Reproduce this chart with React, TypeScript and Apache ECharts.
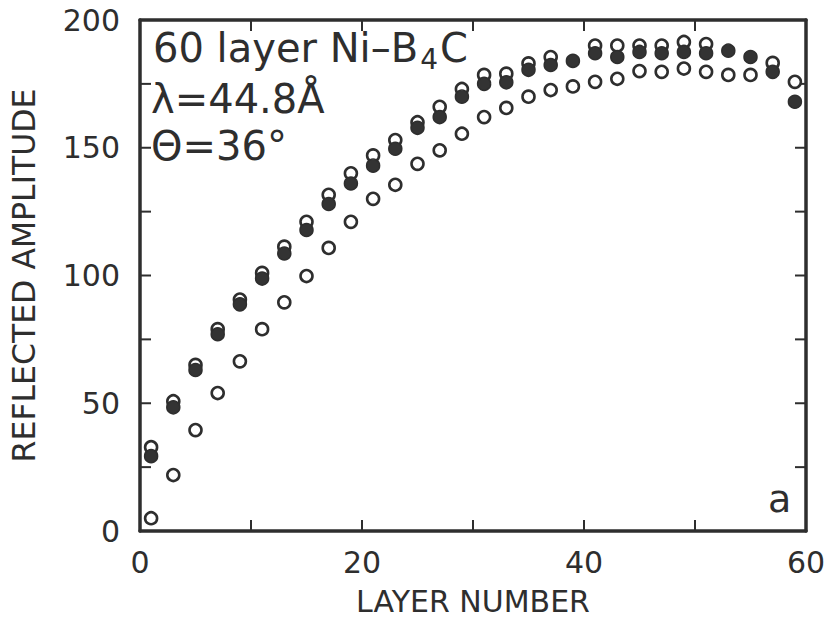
import React, { useEffect, useRef } from "react";
import * as echarts from "echarts";

const layers = [1, 3, 5, 7, 9, 11, 13, 15, 17, 19, 21, 23, 25, 27, 29, 31, 33, 35, 37, 39, 41, 43, 45, 47, 49, 51, 53, 55, 57, 59];
const filledAmp = [29.3, 48.4, 63, 77, 88.7, 98.8, 108.6, 117.8, 128, 136, 143, 149.6, 157.8, 162, 170, 175, 175.6, 180.5, 182.4, 184, 187, 185.5, 187.5, 187, 187.5, 187, 188, 185.5, 179.7, 168];
const openUpperAmp: (number | null)[] = [32.8, 50.8, 65, 79, 90.6, 101, 111.3, 121, 131.6, 140, 147, 153, 160, 166, 173, 178.5, 179, 183, 185.5, null, 190, 190, 190, 190, 191.4, 190.6, null, null, 183.2, null];
const openLowerAmp: (number | null)[] = [5, 21.9, 39.5, 54, 66.4, 79, 89.5, 99.8, 110.8, 121, 130, 135.5, 143.7, 149, 155.5, 162, 165.6, 170, 172.6, 174, 175.8, 177, 180, 179.7, 181, 179.7, 178.5, 178.5, null, 175.8];
const xTickValues = [10, 20, 30, 40, 50];
const yTickValues = [25, 50, 75, 100, 125, 150, 175];
const xTickLabels = ["0", "20", "40", "60"];
const yTickLabels = ["0", "50", "100", "150", "200"];

const INK = "#2e2e2e";
const FONT = "DejaVu Sans";
const TICK_LEN = 11;

export default function App() {
  const ref = useRef<HTMLDivElement>(null);
  useEffect(() => {
    if (!ref.current) return;
    const chart = echarts.init(ref.current, null, { renderer: "svg" });
    const pair = (vals: (number | null)[]) =>
      layers.map((x, i) => (vals[i] == null ? null : [x, vals[i]])).filter((d) => d !== null);

    const line = () => ({ show: true, onZero: false, lineStyle: { color: INK, width: 3.5 } });
    const tickStyle = { stroke: INK, lineWidth: 2 };

    chart.setOption({
      animation: false,
      backgroundColor: "#ffffff",
      grid: { left: 140, right: 26, top: 20, bottom: 86, containLabel: false, outerBoundsMode: "none" },
      xAxis: [
        {
          type: "value",
          position: "bottom",
          min: 0,
          max: 60,
          interval: 10,
          axisLine: line(),
          axisTick: { show: false },
          splitLine: { show: false },
          name: "LAYER NUMBER",
          nameLocation: "middle",
          nameGap: 55,
          nameTextStyle: { fontFamily: FONT, fontSize: 30, color: INK },
          axisLabel: {
            show: true,
            margin: 16,
            fontFamily: FONT,
            fontSize: 30,
            color: INK,
            formatter: (v: number) => (xTickLabels.includes(String(v)) ? String(v) : ""),
          },
        },
        {
          type: "value",
          position: "top",
          min: 0,
          max: 60,
          interval: 10,
          axisLine: line(),
          axisTick: { show: false },
          splitLine: { show: false },
          axisLabel: { show: false },
        },
      ],
      yAxis: [
        {
          type: "value",
          position: "left",
          min: 0,
          max: 200,
          interval: 25,
          axisLine: line(),
          axisTick: { show: false },
          splitLine: { show: false },
          name: "REFLECTED AMPLITUDE",
          nameLocation: "middle",
          nameRotate: 90,
          nameGap: 100,
          nameTextStyle: { fontFamily: FONT, fontSize: 31.5, color: INK },
          axisLabel: {
            show: true,
            margin: 20,
            fontFamily: FONT,
            fontSize: 30,
            color: INK,
            formatter: (v: number) => (yTickLabels.includes(String(v)) ? String(v) : ""),
          },
        },
        {
          type: "value",
          position: "right",
          min: 0,
          max: 200,
          interval: 25,
          axisLine: line(),
          axisTick: { show: false },
          splitLine: { show: false },
          axisLabel: { show: false },
        },
      ],
      series: [
        {
          type: "custom",
          name: "x ticks",
          silent: true,
          z: 1,
          data: xTickValues.map((v) => [v, 0]),
          encode: { x: 0, y: 1 },
          renderItem: (params: any, api: any) => {
            const cs = params.coordSys;
            const p = api.coord([api.value(0), 0]);
            const bottom = cs.y + cs.height;
            return {
              type: "group",
              children: [
                { type: "line", shape: { x1: p[0], y1: bottom, x2: p[0], y2: bottom - TICK_LEN }, style: tickStyle },
                { type: "line", shape: { x1: p[0], y1: cs.y, x2: p[0], y2: cs.y + TICK_LEN }, style: tickStyle },
              ],
            };
          },
        },
        {
          type: "custom",
          name: "y ticks",
          silent: true,
          z: 1,
          data: yTickValues.map((v) => [0, v]),
          encode: { x: 0, y: 1 },
          renderItem: (params: any, api: any) => {
            const cs = params.coordSys;
            const p = api.coord([0, api.value(1)]);
            const right = cs.x + cs.width;
            return {
              type: "group",
              children: [
                { type: "line", shape: { x1: cs.x, y1: p[1], x2: cs.x + TICK_LEN, y2: p[1] }, style: tickStyle },
                { type: "line", shape: { x1: right, y1: p[1], x2: right - TICK_LEN, y2: p[1] }, style: tickStyle },
              ],
            };
          },
        },
        {
          type: "scatter",
          name: "open lower",
          data: pair(openLowerAmp),
          symbol: "circle",
          symbolSize: 12,
          z: 2,
          itemStyle: { color: "#ffffff", borderColor: INK, borderWidth: 2.6, opacity: 1 },
        },
        {
          type: "scatter",
          name: "open upper",
          data: pair(openUpperAmp),
          symbol: "circle",
          symbolSize: 12,
          z: 3,
          itemStyle: { color: "#ffffff", borderColor: INK, borderWidth: 2.6, opacity: 1 },
        },
        {
          type: "scatter",
          name: "filled",
          data: pair(filledAmp),
          symbol: "circle",
          symbolSize: 13,
          z: 4,
          itemStyle: { color: "#333333", borderColor: INK, borderWidth: 1.5, opacity: 1 },
        },
      ],
      graphic: [
        {
          type: "text",
          left: 153,
          top: 28,
          z: 10,
          style: {
            text: "60 layer Ni\u2013B{sub|4}C",
            fontFamily: FONT,
            fontSize: 40,
            fill: INK,
            rich: {
              sub: { fontFamily: FONT, fontSize: 28, fill: INK, padding: [22, 2, 0, 2] },
            },
          },
        },
        {
          type: "text",
          left: 151,
          top: 79,
          z: 10,
          style: { text: "\u03bb=44.8\u00c5", fontFamily: FONT, fontSize: 40, fill: INK },
        },
        {
          type: "text",
          left: 151,
          top: 126,
          z: 10,
          style: { text: "\u0398=36\u00b0", fontFamily: FONT, fontSize: 40, fill: INK },
        },
        {
          type: "text",
          left: 768,
          top: 480,
          z: 10,
          style: { text: "a", fontFamily: FONT, fontSize: 38, fill: INK },
        },
      ],
    });
    return () => chart.dispose();
  }, []);

  return (
    <div
      ref={ref}
      style={{ position: "fixed", left: 0, top: 0, width: 832, height: 617, background: "#fff" }}
    />
  );
}
